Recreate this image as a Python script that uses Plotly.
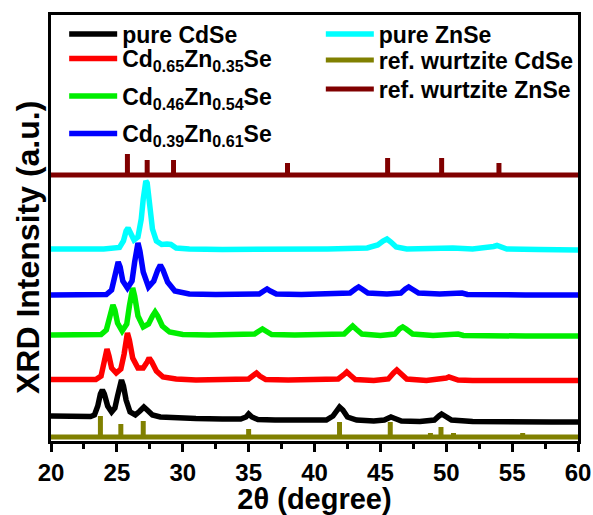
import plotly.graph_objects as go

# ---- data (2theta in degree, intensity in arbitrary units, already stacked) ----
x_cdse = [20, 21, 22, 23, 23.3, 23.55, 23.75, 23.9, 24.05, 24.3, 24.6, 24.85, 25.05, 25.2, 25.35, 25.5, 25.7, 26.0,
          26.4, 26.75, 27.05, 27.3, 27.7, 28.3, 29.5, 31, 33, 34.4, 34.8, 35.0, 35.25, 35.7, 37, 39, 40.9, 41.4, 41.7,
          41.9, 42.15, 42.5, 43.2, 44.5, 45.3, 45.6, 45.8, 46.1, 46.6, 48, 49.1, 49.45, 49.65, 49.9, 50.4, 52, 54, 56, 58, 60]
y_cdse = [28, 28, 27.5, 27.5, 29, 38, 50, 54, 50, 38, 32, 36, 48, 60, 64, 58, 44, 32,
          29, 33, 37, 34, 29, 27, 26, 25.5, 25, 25, 27, 30, 27, 24.5, 24, 23.5, 24, 28, 34,
          37, 34, 27, 24, 23, 24, 26, 27, 25.5, 23, 22.5, 24, 28, 30, 28, 24, 22.5, 22, 22, 22, 22]

x_cd65 = [20, 22, 23.4, 23.8, 24.0, 24.15, 24.25, 24.4, 24.6, 24.95, 25.3, 25.55, 25.7, 25.8, 25.95, 26.2, 26.6, 27.0,
          27.3, 27.45, 27.65, 28.0, 28.5, 29.5, 31, 33, 35.0, 35.35, 35.6, 35.85, 36.3, 38, 40, 41.8, 42.2, 42.45, 42.7,
          43.1, 44.5, 45.6, 46.0, 46.25, 46.5, 47.0, 48.5, 49.7, 50.0, 50.2, 50.45, 50.9, 52, 55, 58, 60]
y_cd65 = [64.5, 64, 64.5, 68, 78, 90, 95, 88, 76, 71, 75, 90, 104, 111, 104, 86, 76, 76,
          82, 86, 82, 73, 67, 65, 64, 64, 65, 68.5, 71, 68, 64.5, 64, 64, 65, 69, 72, 69,
          64.5, 63.5, 65, 71, 74, 71, 65, 63.5, 64.5, 66, 67, 65.5, 64, 63.5, 63.5, 63.5, 63.5]

x_cd46 = [20, 22, 23.8, 24.2, 24.45, 24.6, 24.7, 24.85, 25.05, 25.4, 25.75, 25.95, 26.1, 26.2, 26.35, 26.6, 27.0, 27.4,
          27.7, 27.9, 28.1, 28.45, 29.0, 30, 32, 34, 35.45, 35.8, 36.05, 36.3, 36.75, 38.5, 40.5, 42.25, 42.65, 42.9,
          43.15, 43.6, 45, 46.1, 46.45, 46.7, 46.95, 47.45, 49, 50.2, 50.45, 50.65, 50.9, 51.3, 53, 56, 60]
y_cd46 = [109, 109, 109.5, 114, 126, 135, 139, 134, 121, 113, 120, 138, 152, 156, 148, 128, 117, 120,
          128, 132, 128, 118, 112, 109.5, 109, 109, 110, 113, 115, 113, 109.5, 109, 109, 110, 115, 118,
          115, 110, 108.5, 110, 115, 117, 115, 110, 108.5, 109.5, 110.5, 111, 110, 108.5, 108, 108, 108]

x_cd39 = [20, 22, 24.2, 24.6, 24.85, 25.0, 25.1, 25.25, 25.45, 25.8, 26.15, 26.35, 26.5, 26.6, 26.75, 27.0, 27.4, 27.8,
          28.1, 28.3, 28.5, 28.85, 29.4, 30.5, 32.5, 34.5, 35.8, 36.15, 36.4, 36.65, 37.1, 39, 41, 42.7, 43.1, 43.35,
          43.6, 44.05, 45.5, 46.55, 46.9, 47.15, 47.4, 47.9, 49.5, 50.6, 50.85, 51.0, 51.2, 51.6, 53, 56, 60]
y_cd39 = [149, 149, 149.5, 154, 166, 178, 182, 177, 163, 156, 163, 182, 197, 201, 193, 172, 157, 163,
          174, 179, 174, 162, 153, 150, 149.5, 149.5, 150, 153, 155, 153, 150, 149.5, 150, 151, 155, 157,
          155, 151, 150, 151, 155, 157, 155, 151, 150, 150.5, 151.5, 152, 151, 149.5, 149, 149, 149]

x_znse = [20, 24, 25.2, 25.5, 25.7, 25.85, 26.0, 26.3, 26.6, 26.85, 27.0, 27.1, 27.2, 27.3, 27.4, 27.5, 27.7, 28.0,
          28.4, 28.8, 29.1, 29.5, 30.5, 33, 37, 41, 44, 44.8, 45.2, 45.5, 45.8, 46.2, 47, 48.5, 49.5, 50.5, 52,
          53.3, 53.6, 53.85, 54.1, 54.6, 57, 60]
y_znse = [195, 195, 196.5, 203, 213, 216, 212, 204, 207, 225, 245, 258, 263, 261, 250, 235, 215, 203,
          199.5, 200, 199.5, 196, 195, 194.5, 194.5, 195, 196, 199, 203, 205, 202, 197, 195, 195.5, 196.5, 196, 195,
          196, 197.5, 198.5, 197, 195, 194.5, 194]

# reference patterns (stick positions / stick tops / baseline level)
ref_cdse_pos = [23.75, 25.3, 27.0, 35.0, 41.9, 45.75, 48.8, 49.6, 50.55, 55.8]
ref_cdse_top = [28, 20, 23, 15, 22, 22, 11, 17, 11, 11]
ref_cdse_base = 7
ref_znse_pos = [25.8, 27.3, 29.3, 37.95, 45.55, 49.65, 54.0]
ref_znse_top = [290, 284, 284, 281, 286, 286, 281]
ref_znse_base = 269

x_range = [20, 60]
x_ticks = [20, 25, 30, 35, 40, 45, 50, 55, 60]

names = ["pure CdSe",
         "Cd<sub>0.65</sub>Zn<sub>0.35</sub>Se",
         "Cd<sub>0.46</sub>Zn<sub>0.54</sub>Se",
         "Cd<sub>0.39</sub>Zn<sub>0.61</sub>Se",
         "pure ZnSe",
         "ref. wurtzite CdSe",
         "ref. wurtzite ZnSe"]
colors = ["#000000", "#FF0000", "#00EE00", "#0000FF", "#00FFFF", "#808000", "#800000"]

# legend placement (paper coords, vertical middle of each entry): two columns
legend_xy = [(0.025, 0.955), (0.025, 0.898), (0.025, 0.810), (0.025, 0.722),
             (0.512, 0.955), (0.512, 0.894), (0.512, 0.826)]


def sticks(pos, top, base):
    xs = [x_range[0], x_range[1], None]
    ys = [base, base, None]
    for p, t in zip(pos, top):
        xs += [p, p, None]
        ys += [base, t, None]
    return xs, ys


def legend_id(k):
    return "legend" if k == 0 else "legend%d" % (k + 1)


fig = go.Figure()
curves = [(x_cdse, y_cdse), (x_cd65, y_cd65), (x_cd46, y_cd46), (x_cd39, y_cd39), (x_znse, y_znse)]
for i, (xs, ys) in enumerate(curves):
    fig.add_trace(go.Scatter(x=xs, y=ys, mode="lines", name=names[i],
                             line=dict(color=colors[i], width=5.5), legend=legend_id(i)))

for j, (pos, top, base) in enumerate([(ref_cdse_pos, ref_cdse_top, ref_cdse_base),
                                      (ref_znse_pos, ref_znse_top, ref_znse_base)]):
    xs, ys = sticks(pos, top, base)
    fig.add_trace(go.Scatter(x=xs, y=ys, mode="lines", name=names[5 + j],
                             line=dict(color=colors[5 + j], width=5), legend=legend_id(5 + j)))

font_b = dict(family="Arial, Liberation Sans, sans-serif", color="black", weight="bold")

legends = {}
for k, (lx, ly) in enumerate(legend_xy):
    legends[legend_id(k)] = dict(x=lx, y=ly, xanchor="left", yanchor="middle", bgcolor="rgba(0,0,0,0)",
                                 font=dict(size=23, **font_b), itemwidth=48)

fig.update_layout(
    width=593, height=515,
    margin=dict(l=51, r=15, t=15, b=74, autoexpand=False),
    paper_bgcolor="white", plot_bgcolor="white",
    showlegend=True,
    **legends,
    annotations=[dict(text="XRD Intensity (a.u.)", textangle=-90, xref="paper", yref="paper",
                      x=-0.0436, y=0.453, xanchor="center", yanchor="middle", showarrow=False,
                      font=dict(size=32, **font_b))],
)
fig.update_xaxes(range=x_range, tickvals=x_ticks, ticks="outside", ticklen=8, tickwidth=2.5,
                 tickcolor="black", showline=True, linewidth=2.5, linecolor="black", mirror=True,
                 showgrid=False, zeroline=False, automargin=False,
                 minor=dict(dtick=2.5, ticks="outside", ticklen=5, tickwidth=2.5, tickcolor="black", showgrid=False),
                 tickfont=dict(size=24, **font_b),
                 title=dict(text="2θ (degree)", font=dict(size=29, **font_b), standoff=13))
fig.update_yaxes(range=[3, 429], showticklabels=False, ticks="", showline=True, linewidth=2.5,
                 linecolor="black", mirror=True, showgrid=False, zeroline=False, automargin=False)

fig.write_html("out.html")
